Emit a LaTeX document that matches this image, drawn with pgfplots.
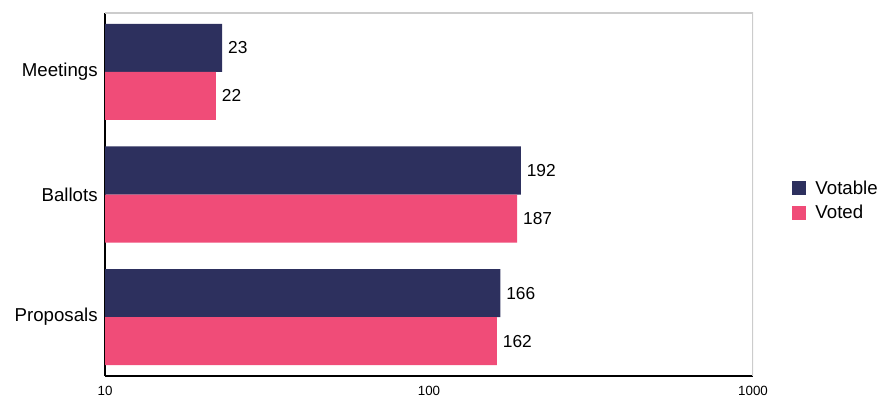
\documentclass[border=0pt]{standalone}
\usepackage{pgfplots}
\pgfplotsset{compat=1.18}
\usepackage{fontspec}
\setmainfont{Liberation Sans}
\definecolor{navy}{RGB}{45,48,94}
\definecolor{pinkc}{RGB}{240,76,120}
\begin{document}
\begin{tikzpicture}
\begin{axis}[
  scale only axis,
  width=486pt, height=272.25pt,
  xmode=log, xmin=10, xmax=1000,
  xtick={10,100,1000}, xticklabels={10,100,1000},
  ymin=-0.48, ymax=2.48,
  ytick={0,1,2}, yticklabels={Proposals,Ballots,Meetings},
  axis lines*=left,
  axis line style={-, black, line width=0.9pt},
  major tick length=0pt, minor tick length=0pt,
  xminorticks=false,
  x tick label style={font=\fontsize{10}{11}\selectfont, yshift=-4pt},
  y tick label style={font=\fontsize{14}{16}\selectfont, xshift=-2pt},
  /pgf/number format/assume math mode=true,
  xbar, bar width=0.392,
  nodes near coords,
  nodes near coords style={font=\fontsize{13}{15}\selectfont, anchor=west, xshift=1pt, text=black},
  point meta=explicit symbolic,
  legend style={at={(1.06,0.483)}, anchor=west, draw=none, font=\fontsize{14}{16}\selectfont, row sep=3pt, inner sep=0pt},
  legend cell align=left,
  legend image code/.code={\fill[#1] (0pt,-5.25pt) rectangle (10.5pt,5.25pt); \path (15.5pt,0pt);},
  clip=true,
]
\addplot[fill=navy, draw=none, bar shift=0.196] coordinates {(166,0)[166] (192,1)[192] (23,2)[23]};
\addplot[fill=pinkc, draw=none, bar shift=-0.196] coordinates {(162,0)[162] (187,1)[187] (22,2)[22]};
\legend{Votable,Voted}
\draw[black!20, line width=0.8pt] (rel axis cs:0,1) -- (rel axis cs:1,1) -- (rel axis cs:1,0);
\end{axis}
\pgfresetboundingbox
\path[use as bounding box] (current axis.south west) ++(-78.75pt,-18.75pt) rectangle ([xshift=101.25pt,yshift=9.75pt]current axis.north east);
\end{tikzpicture}
\end{document}
